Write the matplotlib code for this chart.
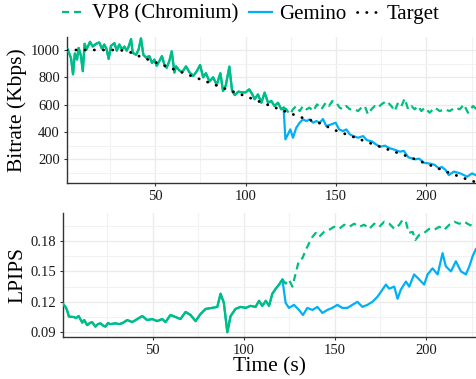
import matplotlib
matplotlib.use("Agg")
import matplotlib.pyplot as plt
import numpy as np
from matplotlib.ticker import MultipleLocator

plt.rcParams['font.family'] = ['Liberation Serif', 'DejaVu Serif']

GREEN = '#00BF7D'
BLUE = '#00B0F6'

# ---------------- Bitrate (Kbps) ----------------
# shared part (both systems identical before the switch at ~121 s)
bitrate_shared_t = [1.5, 3.4, 4.5, 5.5, 6.7, 7.6, 8.9, 9.9, 10.9, 12.0, 13.9, 15.4, 17.2, 19.0,
                    20.5, 21.8, 23.1, 24.2, 25.5, 27.4, 28.7, 30.1, 31.6, 32.9, 34.2, 35.3, 36.6,
                    37.5, 39.4, 40.8, 42.1, 43.4, 44.9, 46.7, 48.2, 49.5, 50.8, 52.3, 53.7, 55.0,
                    56.3, 57.8, 59.1, 60.6, 61.5, 63.3, 65.0, 67.0, 69.0, 71.0, 73.0, 74.8, 76.5,
                    78.0, 80.0, 82.0, 84.0, 86.0, 87.5, 89.0, 91.0, 92.5, 94.0, 96.0, 98.0, 100.0,
                    102.0, 103.5, 105.0, 106.8, 108.7, 110.5, 112.4, 114.2, 116.0, 117.9, 119.7, 121.0]
bitrate_shared = [1005, 940, 822, 975, 930, 1015, 955, 845, 1045, 1005, 1060, 1025, 1045, 1055,
                  1010, 1040, 1005, 935, 1030, 1050, 995, 1040, 1005, 1025, 995, 1025, 1080,
                  980, 965, 1005, 1085, 965, 945, 955, 905, 930, 885, 920, 955, 895,
                  870, 920, 990, 835, 880, 850, 840, 880, 835, 810, 845, 890, 800,
                  830, 770, 800, 745, 830, 700, 740, 878, 700, 670, 695, 690, 690,
                  712, 680, 640, 675, 614, 688, 614, 627, 590, 614, 566, 578]

gemino_bitrate_t = [121.0, 122.0, 123.4, 124.7, 126.2, 128.0, 129.9, 131.7, 133.6, 135.4, 137.3,
                    139.1, 141.0, 142.8, 144.6, 147.4, 149.8, 151.7, 153.9, 155.7, 157.6, 159.6,
                    162.2, 165.0, 167.0, 170.0, 172.0, 174.4, 177.0, 180.0, 182.5, 185.4, 187.5,
                    190.0, 193.7, 196.0, 198.6, 202.3, 204.5, 206.9, 208.5, 210.6, 212.4, 215.2,
                    218.8, 222.5, 225.3, 228.0]
gemino_bitrate = [578, 346, 383, 419, 358, 431, 468, 492, 480, 492, 468,
                  480, 468, 495, 443, 456, 468, 419, 407, 419, 383, 370,
                  358, 370, 341, 330, 310, 292, 300, 280, 270, 256, 262,
                  215, 200, 205, 175, 168, 160, 134, 145, 122, 85, 110,
                  97, 73, 97, 80]

vp8_bitrate_t = [121.0, 122.5, 124.4, 126.2, 128.0, 129.9, 131.7, 133.6, 135.4, 137.3, 139.5,
                 141.9, 144.3, 146.1, 148.0, 150.2, 152.0, 153.9, 155.7, 157.6, 160.3, 162.2,
                 164.0, 165.9, 167.7, 169.6, 171.4, 173.2, 175.1, 177.9, 180.6, 182.5, 184.3,
                 186.2, 188.0, 189.9, 191.7, 193.5, 195.4, 197.2, 199.1, 201.8, 204.6, 207.4,
                 210.1, 212.9, 215.7, 218.5, 220.7, 223.0, 225.8, 227.9]
vp8_bitrate = [578, 566, 529, 566, 590, 553, 590, 566, 578, 553, 602,
               566, 614, 590, 627, 614, 578, 566, 590, 566, 566, 553,
               578, 590, 529, 566, 590, 578, 602, 627, 590, 553, 614,
               590, 645, 566, 590, 566, 590, 553, 578, 541, 578, 553,
               566, 553, 578, 566, 602, 541, 590, 566]

target_t = [1, 10, 20, 30, 35, 40, 50, 60, 70, 80, 90, 100, 110, 120, 130, 140, 150, 160,
            170, 180, 190, 200, 210, 220, 228]
target_bitrate = [1000, 1000, 1000, 1000, 990, 960, 910, 860, 810, 760, 710, 662, 610, 560,
                  510, 470, 410, 362, 313, 266, 220, 168, 115, 65, 30]

# ---------------- LPIPS ----------------
lpips_shared_t = [0.8, 2.0, 3.0, 4.1, 6.7, 8.0, 9.4, 11.4, 12.5, 14.1, 15.5, 16.8, 18.6, 20.0,
                  21.4, 22.5, 24.1, 25.5, 26.9, 29.6, 31.5, 33.3, 36.1, 38.8, 41.6, 44.3, 47.0,
                  49.8, 52.5, 55.3, 57.1, 59.8, 62.6, 65.3, 68.1, 70.8, 73.6, 76.3, 79.1, 82.7,
                  85.5, 87.3, 89.1, 91.0, 92.8, 95.5, 98.3, 101.0, 103.8, 106.5, 108.4, 110.2,
                  112.1, 113.9, 115.7, 117.6, 119.4, 121.2]
lpips_shared = [0.118, 0.1155, 0.112, 0.1054, 0.105, 0.104, 0.106, 0.0995, 0.102, 0.097, 0.099,
                0.100, 0.0955, 0.098, 0.0988, 0.097, 0.0955, 0.099, 0.098, 0.0988, 0.098, 0.0988,
                0.102, 0.100, 0.103, 0.106, 0.102, 0.103, 0.101, 0.103, 0.100, 0.107, 0.105,
                0.103, 0.110, 0.107, 0.101, 0.108, 0.113, 0.114, 0.115, 0.128, 0.119, 0.090,
                0.106, 0.113, 0.115, 0.114, 0.116, 0.115, 0.121, 0.116, 0.121, 0.116, 0.128,
                0.133, 0.137, 0.142]

gemino_lpips_t = [121.2, 123.0, 124.8, 127.6, 130.3, 132.5, 134.9, 137.7, 140.4, 143.2, 145.9,
                  148.6, 151.4, 154.1, 156.9, 159.6, 162.4, 165.1, 167.9, 170.6, 173.4, 176.1,
                  178.0, 179.8, 182.6, 184.4, 186.2, 189.0, 190.8, 193.5, 196.3, 199.0, 200.9,
                  203.6, 206.4, 209.1, 210.9, 213.7, 216.4, 219.2, 221.9, 223.8, 225.6, 227.4]
gemino_lpips = [0.142, 0.119, 0.114, 0.117, 0.112, 0.107, 0.114, 0.112, 0.115, 0.109, 0.112,
                0.114, 0.117, 0.114, 0.114, 0.117, 0.120, 0.115, 0.117, 0.120, 0.125, 0.132,
                0.137, 0.133, 0.135, 0.123, 0.132, 0.140, 0.135, 0.147, 0.142, 0.137, 0.147,
                0.153, 0.147, 0.168, 0.155, 0.150, 0.160, 0.150, 0.147, 0.155, 0.165, 0.172]

vp8_lpips_t = [121.2, 123.0, 124.8, 126.7, 128.5, 130.3, 132.2, 134.0, 135.9, 137.7, 139.5,
               141.3, 144.1, 146.8, 149.6, 152.4, 155.1, 157.9, 160.6, 163.4, 166.1, 168.9,
               171.6, 174.4, 177.1, 179.9, 182.6, 185.4, 187.2, 189.0, 190.5, 192.7, 194.2,
               196.3, 199.0, 201.8, 204.5, 207.3, 210.0, 212.8, 215.5, 218.3, 221.0, 223.8, 227.4]
vp8_lpips = [0.142, 0.138, 0.142, 0.135, 0.148, 0.161, 0.163, 0.171, 0.178, 0.184, 0.188,
             0.184, 0.189, 0.191, 0.194, 0.192, 0.196, 0.194, 0.197, 0.194, 0.196, 0.192,
             0.197, 0.194, 0.199, 0.197, 0.192, 0.196, 0.201, 0.199, 0.188, 0.189, 0.181,
             0.186, 0.188, 0.192, 0.191, 0.194, 0.191, 0.196, 0.199, 0.197, 0.199, 0.196, 0.194]

W, H = 477, 379
fig = plt.figure(figsize=(W / 100, H / 100), dpi=100)

def frac(l, t, r, b):
    return [l / W, 1 - b / H, (r - l) / W, (b - t) / H]

ax1 = fig.add_axes(frac(66.7, 37, 477, 182.7))
ax2 = fig.add_axes(frac(63.3, 213, 477, 337.3))

LW = 1.6
DASH = (3.2, 2.2)

def style(ax):
    ax.set_facecolor('white')
    for s in ['top', 'right']:
        ax.spines[s].set_visible(False)
    for s in ['left', 'bottom']:
        ax.spines[s].set_color('#333333')
        ax.spines[s].set_linewidth(1.0)
    ax.grid(True, which='major', color='#EBEBEB', lw=1.0, zorder=0)
    ax.grid(True, which='minor', color='#F2F2F2', lw=0.8, zorder=0)
    ax.set_axisbelow(True)
    ax.tick_params(which='major', length=2.5, width=0.8, color='#333333', labelsize=10.5,
                   labelcolor='#1a1a1a', pad=2.5)
    ax.tick_params(which='minor', length=0)
    ax.set_xlim(1, 228)
    ax.xaxis.set_major_locator(MultipleLocator(50))
    ax.xaxis.set_minor_locator(MultipleLocator(25))

# ---- top panel ----
style(ax1)
ax1.plot(bitrate_shared_t + gemino_bitrate_t, bitrate_shared + gemino_bitrate,
         color=BLUE, lw=LW, zorder=3, label='Gemino')
ax1.plot(bitrate_shared_t, bitrate_shared, color=GREEN, lw=LW, zorder=4)
l_vp8, = ax1.plot(vp8_bitrate_t, vp8_bitrate, color=GREEN, lw=LW, dashes=DASH, zorder=4,
                  label='VP8 (Chromium)')
ax1.plot(target_t, target_bitrate, color='black', lw=2.0, linestyle=(0, (0.1, 3.2)),
         dash_capstyle='round', zorder=5, label='Target')
ax1.set_ylim(29, 1095)
ax1.set_yticks([200, 400, 600, 800, 1000])
ax1.yaxis.set_minor_locator(MultipleLocator(100))

# ---- bottom panel ----
style(ax2)
ax2.plot(lpips_shared_t + gemino_lpips_t, lpips_shared + gemino_lpips,
         color=BLUE, lw=LW, zorder=3)
ax2.plot(lpips_shared_t, lpips_shared, color=GREEN, lw=LW, zorder=4)
ax2.plot(vp8_lpips_t, vp8_lpips, color=GREEN, lw=LW, dashes=DASH, zorder=4)
ax2.set_ylim(0.085, 0.2076)
ax2.set_yticks([0.09, 0.12, 0.15, 0.18])
ax2.set_yticklabels(['0.09', '0.12', '0.15', '0.18'])
ax2.yaxis.set_minor_locator(MultipleLocator(0.015))

# axis titles
fig.text(17.5 / W, 1 - 110 / H, 'Bitrate (Kbps)', rotation=90, ha='center', va='center',
         fontsize=15.5, color='black')
fig.text(17.5 / W, 1 - 275 / H, 'LPIPS', rotation=90, ha='center', va='center',
         fontsize=15.5, color='black')
fig.text(270 / W, 1 - 367 / H, 'Time (s)', ha='center', va='center', fontsize=15.5,
         color='black')

# legend
h, l = ax1.get_legend_handles_labels()
order = [l.index('VP8 (Chromium)'), l.index('Gemino'), l.index('Target')]
fig.legend([h[i] for i in order], [l[i] for i in order], loc='center',
           bbox_to_anchor=(251 / W, 1 - 14 / H), ncol=3, frameon=False, fontsize=15,
           handlelength=1.1, handletextpad=0.35, columnspacing=0.5, borderpad=0.0)

fig.savefig('out.png', dpi=100, facecolor='white')
